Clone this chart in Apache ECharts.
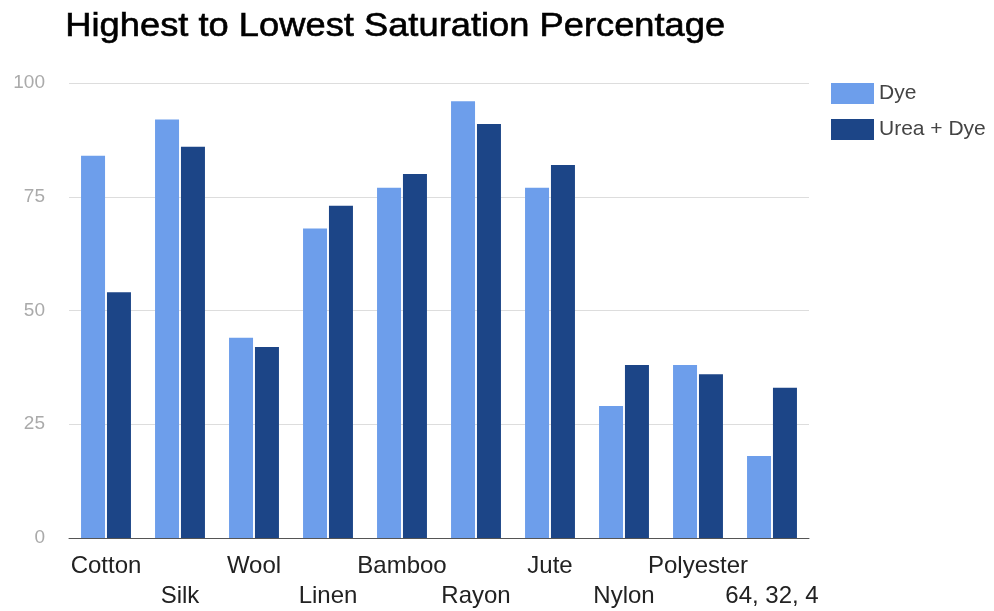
<!DOCTYPE html>
<html>
<head>
<meta charset="utf-8">
<script src="https://cdn.jsdelivr.net/npm/echarts@6/dist/echarts.min.js"></script>
<style>
  html, body { margin: 0; padding: 0; background: #fff; }
  #chart { width: 994px; height: 611px; }
</style>
</head>
<body>
<div id="chart"></div>
<script>
// Fabric samples and their saturation percentages
const categories = ['Cotton', 'Silk', 'Wool', 'Linen', 'Bamboo', 'Rayon', 'Jute', 'Nylon', 'Polyester', '64, 32, 4'];
const dyeValues = [84, 92, 44, 68, 77, 96, 77, 29, 38, 18];
const ureaDyeValues = [54, 86, 42, 73, 80, 91, 82, 38, 36, 33];
const yTicks = { min: 0, max: 100, interval: 25 };
const chartTitle = 'Highest to Lowest Saturation Percentage';

const chart = echarts.init(document.getElementById('chart'));
const font = 'Liberation Sans, Arial, sans-serif';

chart.setOption({
  backgroundColor: '#ffffff',
  animation: false,
  // Title drawn as a graphic so it can be widened slightly
  graphic: [{
    type: 'text',
    left: 65,
    top: 10,
    scaleX: 1.1,
    style: {
      text: chartTitle,
      fontFamily: font,
      fontSize: 33,
      fill: '#000000',
      stroke: '#000000',
      lineWidth: 0.6
    }
  }],
  legend: {
    orient: 'vertical',
    left: 826,
    top: 78,
    itemWidth: 43,
    itemHeight: 21,
    itemGap: 15,
    icon: 'rect',
    textStyle: { fontFamily: font, fontSize: 21, color: '#444444' },
    data: ['Dye', 'Urea + Dye']
  },
  grid: { left: 69, right: 185, top: 83, bottom: 67 },
  xAxis: {
    type: 'category',
    data: categories,
    axisTick: { show: false },
    axisLine: { lineStyle: { color: '#555555', width: 1 } },
    axisLabel: {
      interval: 0,
      margin: 13,
      fontFamily: font,
      fontSize: 24,
      color: '#222222',
      lineHeight: 30,
      formatter: (v, i) => (i % 2 === 1 ? '\n' + v : v)
    }
  },
  yAxis: {
    type: 'value',
    min: yTicks.min,
    max: yTicks.max,
    interval: yTicks.interval,
    axisLine: { show: false },
    axisTick: { show: false },
    splitLine: { lineStyle: { color: '#dddddd', width: 1 } },
    axisLabel: { margin: 24, fontFamily: font, fontSize: 19, color: '#aaaaaa' }
  },
  series: [
    {
      name: 'Dye',
      type: 'bar',
      data: dyeValues,
      barWidth: 24,
      barGap: '8%',
      itemStyle: { color: '#6d9eeb' }
    },
    {
      name: 'Urea + Dye',
      type: 'bar',
      data: ureaDyeValues,
      barWidth: 24,
      barGap: '8%',
      itemStyle: { color: '#1c4587' }
    }
  ]
});
</script>
</body>
</html>
